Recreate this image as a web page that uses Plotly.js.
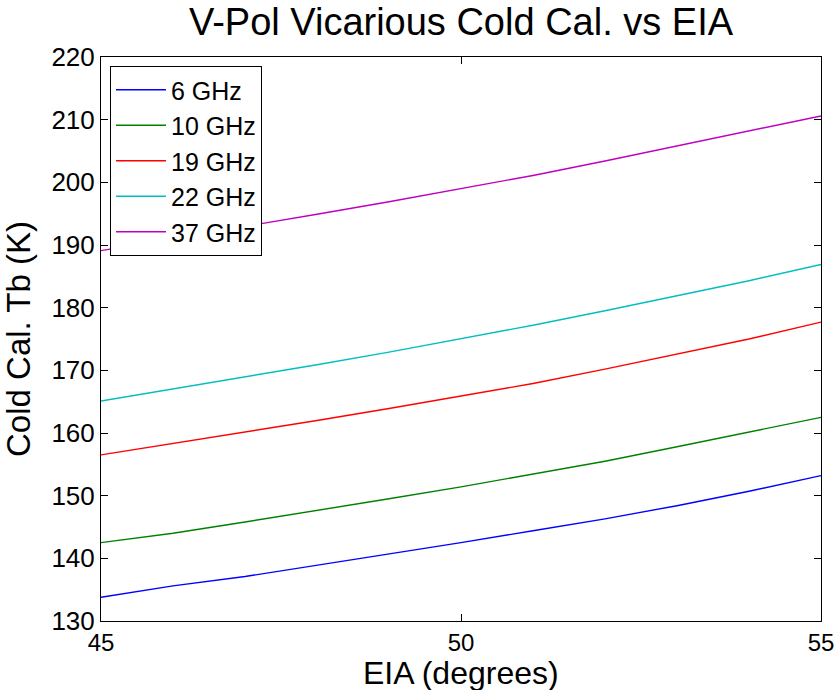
<!DOCTYPE html>
<html>
<head>
<meta charset="utf-8">
<script src="https://cdn.plot.ly/plotly-3.0.1.min.js"></script>
<style>html,body{margin:0;padding:0;background:#fff;}#chart{width:838px;height:690px;}</style>
</head>
<body>
<div id="chart"></div>
<script>
const eia = [45, 46, 47, 48, 49, 50, 51, 52, 53, 54, 55];
const tb6  = [133.8, 135.6, 137.1, 138.9, 140.6, 142.5, 144.4, 146.3, 148.4, 150.7, 153.2];
const tb10 = [142.5, 144.0, 145.8, 147.6, 149.5, 151.4, 153.4, 155.5, 157.8, 160.1, 162.5];
const tb19 = [156.5, 158.3, 160.2, 162.0, 163.9, 165.9, 167.9, 170.2, 172.6, 175.0, 177.7];
const tb22 = [165.1, 167.0, 169.0, 170.9, 172.9, 175.0, 177.2, 179.5, 181.9, 184.3, 186.9];
const tb37 = [189.1, 191.0, 192.9, 194.9, 196.9, 199.0, 201.1, 203.4, 205.8, 208.1, 210.6];
const seriesNames = ['6 GHz', '10 GHz', '19 GHz', '22 GHz', '37 GHz'];
const seriesValues = [tb6, tb10, tb19, tb22, tb37];
const colors = ['rgb(0,0,255)', 'rgb(0,128,0)', 'rgb(255,0,0)', 'rgb(0,191,191)', 'rgb(191,0,191)'];
const xTicks = [45, 50, 55];
const yTicks = [130, 140, 150, 160, 170, 180, 190, 200, 210, 220];
const xTitle = 'EIA (degrees)';
const yTitle = 'Cold Cal. Tb (K)';
const chartTitle = 'V-Pol Vicarious Cold Cal. vs EIA';

const font = 'Liberation Sans, Arial, Helvetica, sans-serif';
const traces = seriesValues.map((v, i) => ({
  x: eia, y: v, type: 'scatter', mode: 'lines', name: seriesNames[i],
  line: {color: colors[i], width: 1.4}
}));

const layout = {
  width: 838, height: 690,
  margin: {l: 101, r: 17, t: 57, b: 69, pad: 0},
  paper_bgcolor: '#fff', plot_bgcolor: '#fff',
  font: {family: font, color: '#000', size: 25},
  title: {text: chartTitle, font: {size: 38, family: font, color: '#000'},
          x: 0.5, xref: 'paper', y: 1 - 22/690, yref: 'container', yanchor: 'middle', xanchor: 'center'},
  xaxis: {
    range: [45, 55], tickvals: xTicks, ticktext: xTicks.map(String),
    ticks: 'inside', ticklen: 7, tickwidth: 1, tickcolor: '#000',
    showline: true, linecolor: '#000', linewidth: 1, mirror: 'ticks',
    showgrid: false, zeroline: false, tickfont: {size: 24}
  },
  yaxis: {
    range: [130, 220], tickvals: yTicks, ticktext: yTicks.map(String),
    ticks: 'inside', ticklen: 7, tickwidth: 1, tickcolor: '#000',
    showline: true, linecolor: '#000', linewidth: 1, mirror: 'ticks',
    showgrid: false, zeroline: false, tickfont: {size: 26},
    title: {text: yTitle, font: {size: 33}, standoff: 10}
  },
  annotations: [{
    text: xTitle, xref: 'paper', yref: 'paper', x: 0.5, y: (621 - 673) / 564,
    xanchor: 'center', yanchor: 'middle', showarrow: false, font: {size: 32}
  }],
  showlegend: true,
  legend: {x: 0.0125, y: 0.984, xanchor: 'left', yanchor: 'top',
           bgcolor: '#fff', bordercolor: '#000', borderwidth: 1,
           font: {size: 25}, tracegroupgap: 0, itemwidth: 50}
};
Plotly.newPlot('chart', traces, layout, {displayModeBar: false, staticPlot: true});
</script>
</body>
</html>
